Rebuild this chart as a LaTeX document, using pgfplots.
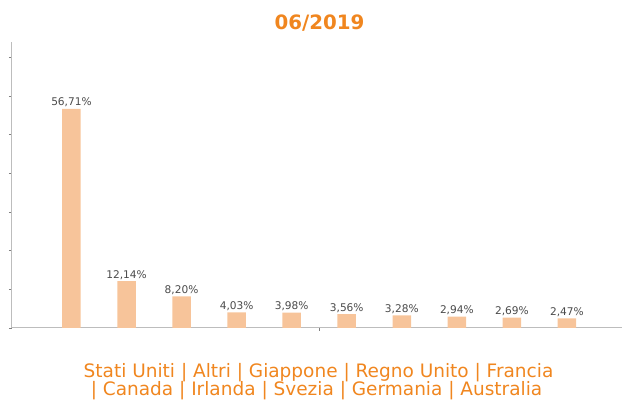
\documentclass[border=0pt]{standalone}
\usepackage{pgfplots}
\pgfplotsset{compat=1.18}
\usepackage{fontspec}
\setmainfont{DejaVu Sans}
\definecolor{barc}{HTML}{F7C49A}
\definecolor{orng}{HTML}{F0861F}
\definecolor{axgray}{HTML}{BDBDBD}
\definecolor{lblgray}{HTML}{4A4A4A}
\begin{document}
\begin{tikzpicture}
\useasboundingbox (0pt,0pt) rectangle (622pt,401pt);
\begin{axis}[
  at={(12pt,73pt)}, anchor=south west,
  scale only axis, width=610pt, height=286pt,
  xmin=-1.08, xmax=10, ymin=0, ymax=74,
  axis x line=bottom, axis y line=left,
  axis line style={draw=axgray, line width=1pt, -},
  xtick={4.5}, xticklabels={},
  ytick={0,10,...,70}, yticklabels={},
  tick align=outside, major tick length=3pt,
  tick style={draw=gray, line width=0.8pt},
  ybar, bar width=18.5pt,
  nodes near coords={\pgfplotspointmeta\%},
  point meta=explicit symbolic,
  every node near coord/.append style={font=\fontsize{10.6}{11}\selectfont, text=lblgray, inner sep=1.5pt},
  clip=false,
]
\addplot[fill=barc, draw=none] table[x=x, y=y, meta=l] {
x y l
0 56.71 56,71
1 12.14 12,14
2 8.20 8,20
3 4.03 4,03
4 3.98 3,98
5 3.56 3,56
6 3.28 3,28
7 2.94 2,94
8 2.69 2,69
9 2.47 2,47
};
\end{axis}
\node[anchor=base, font=\bfseries\fontsize{19.8}{21}\selectfont, text=orng] at (319.5pt,371.7pt) {06/2019};
\node[anchor=base, font=\fontsize{18.5}{20}\selectfont, text=orng] at (318.5pt,23pt) {Stati Uniti | Altri | Giappone | Regno Unito | Francia};
\node[anchor=base, font=\fontsize{18.5}{20}\selectfont, text=orng] at (316.5pt,5pt) {| Canada | Irlanda | Svezia | Germania | Australia};
\end{tikzpicture}
\end{document}
